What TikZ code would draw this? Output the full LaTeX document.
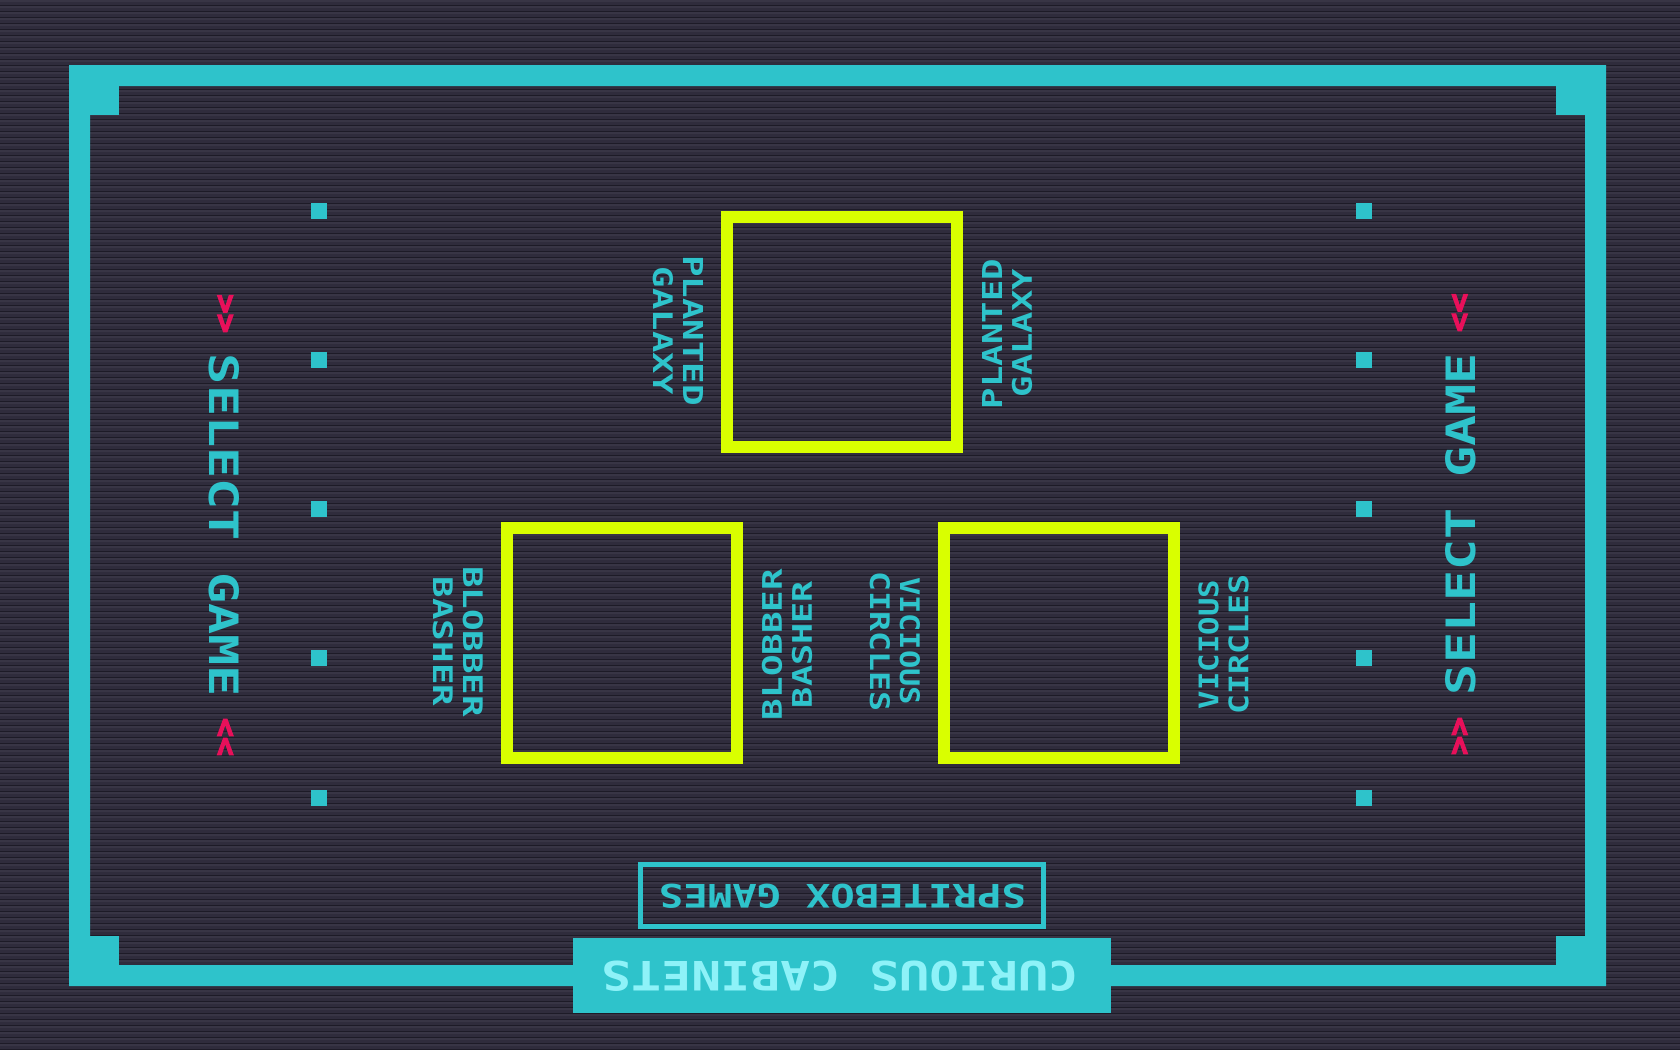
\documentclass[tikz,border=0pt]{standalone}
\usepackage{graphicx}
\usepackage{fontspec}
\newfontfamily\pixfont{DejaVu Sans Mono}
\newfontfamily\chevfont{DejaVu Sans Mono}[FakeBold=4]
\newcommand{\fitw}[3]{\resizebox{#1pt}{#2pt}{\pixfont\bfseries #3}}
\newcommand{\fitc}[3]{\resizebox{#1pt}{#2pt}{\chevfont\bfseries #3}}
\definecolor{bgbase}{HTML}{2F2C3C}
\definecolor{bglight}{HTML}{383545}
\definecolor{bgdark}{HTML}{1D1B27}
\definecolor{cab}{HTML}{2EC3CB}
\definecolor{cablight}{HTML}{8EF2F8}
\definecolor{screen}{HTML}{D9FF00}
\definecolor{chev}{HTML}{E8105A}
\tikzset{
  txt/.style={inner sep=0pt, outer sep=0pt, text=cab},
  chevtxt/.style={inner sep=0pt, outer sep=0pt, text=chev},
  screenbox/.style={draw=screen, line width=12pt},
  dot/.style={fill=cab},
}
\begin{document}
\begin{tikzpicture}[x=1pt,y=-1pt]
\useasboundingbox (0,0) rectangle (1680,1050);
% background with scan lines
\fill[bgbase] (0,0) rectangle (1680,1050);
\foreach \i in {0,...,174}{
  \fill[bglight] (0,\i*6) rectangle (1680,\i*6+2);
  \fill[bgdark] (0,\i*6+4.5) rectangle (1680,\i*6+6);
}
% cabinet frame
\fill[cab,even odd rule] (69,65) rectangle (1606,986) (90,86) rectangle (1585,965);
\fill[cab] (69,65) rectangle (119,115);
\fill[cab] (1556,65) rectangle (1606,115);
\fill[cab] (69,936) rectangle (119,986);
\fill[cab] (1556,936) rectangle (1606,986);
% dots
\foreach \y in {203,352,501,650,790}{
  \fill[dot] (311,\y) rectangle (327,\y+16);
  \fill[dot] (1356,\y) rectangle (1372,\y+16);
}
% screens
\draw[screenbox] (727,217) rectangle (957,447);
\draw[screenbox] (507,528) rectangle (737,758);
\draw[screenbox] (944,528) rectangle (1174,758);
% select game, left
\node[txt, rotate=-90] (selL) at (224,525.5) {\fitw{343}{30}{SELECT GAME}};
\node[chevtxt, rotate=-90] (chevLa) at (224.5,313.5) {\fitc{39}{17}{>>}};
\node[chevtxt, rotate=-90] (chevLb) at (224.5,737) {\fitc{38}{17}{<<}};
% select game, right
\node[txt, rotate=90] (selR) at (1461,524) {\fitw{342}{30}{SELECT GAME}};
\node[chevtxt, rotate=90] (chevRa) at (1460.5,736) {\fitc{38}{17}{>>}};
\node[chevtxt, rotate=90] (chevRb) at (1460.5,312.5) {\fitc{39}{17}{<<}};
% labels top screen
\node[txt, rotate=-90] (pgL1) at (693,330.5) {\fitw{151}{20}{PLANTED}};
\node[txt, rotate=-90] (pgL2) at (663,331) {\fitw{128}{20}{GALAXY}};
\node[txt, rotate=90] (pgR1) at (992,334) {\fitw{150}{20}{PLANTED}};
\node[txt, rotate=90] (pgR2) at (1022,333) {\fitw{128}{20}{GALAXY}};
% labels bottom-left screen
\node[txt, rotate=-90] (bbL1) at (473,641.5) {\fitw{151}{20}{BLOBBER}};
\node[txt, rotate=-90] (bbL2) at (443,641.5) {\fitw{129}{20}{BASHER}};
\node[txt, rotate=90] (bbR1) at (772,644.5) {\fitw{151}{20}{BLOBBER}};
\node[txt, rotate=90] (bbR2) at (802,644.5) {\fitw{127}{20}{BASHER}};
% labels bottom-right screen
\node[txt, rotate=-90] (vcL1) at (910,641) {\fitw{128}{20}{VICIOUS}};
\node[txt, rotate=-90] (vcL2) at (880,641) {\fitw{140}{20}{CIRCLES}};
\node[txt, rotate=90] (vcR1) at (1208.5,644.5) {\fitw{129}{20}{VICIOUS}};
\node[txt, rotate=90] (vcR2) at (1238.5,644) {\fitw{140}{20}{CIRCLES}};
% spritebox plate
\draw[cab, line width=5pt] (640.5,864.5) rectangle (1043.5,926.5);
\node[txt, rotate=180] (sprite) at (842.5,896) {\fitw{367}{24}{SPRITEBOX GAMES}};
% marquee tab
\fill[cab] (573,938) rectangle (1111,1013);
\node[inner sep=0pt, text=cablight, rotate=180] (title) at (840,976) {\fitw{476}{30}{CURIOUS CABINETS}};
\end{tikzpicture}
\end{document}
